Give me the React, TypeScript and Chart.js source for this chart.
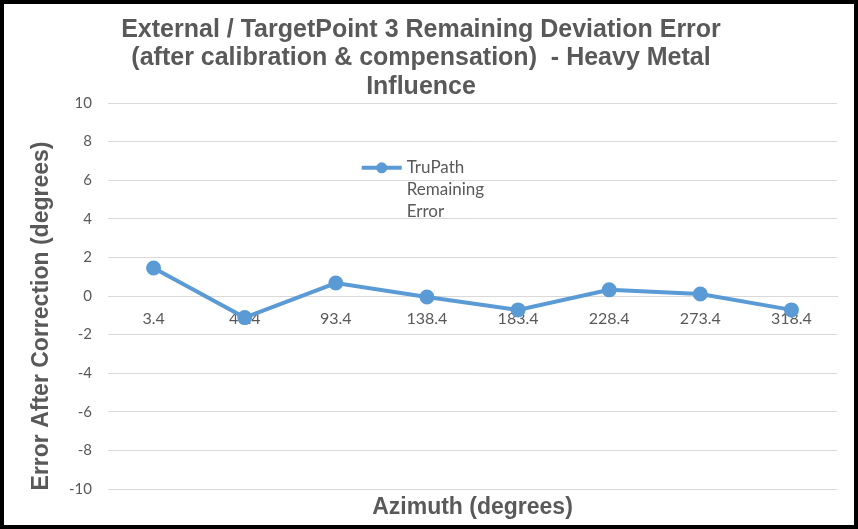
import { useEffect, useRef } from "react";
import { Chart, registerables } from "chart.js";

Chart.register(...registerables);

const categories = ["3.4", "48.4", "93.4", "138.4", "183.4", "228.4", "273.4", "318.4"];
const remainingError = [1.45, -1.12, 0.67, -0.05, -0.72, 0.32, 0.1, -0.72];
const seriesLabel = "TruPath Remaining Error";
const legendLines = ["TruPath", "Remaining", "Error"];
const titleLines = [
  "External / TargetPoint 3 Remaining Deviation Error",
  "(after calibration & compensation)  - Heavy Metal",
  "Influence",
];
const xAxisTitle = "Azimuth (degrees)";
const yAxisTitle = "Error After Correction (degrees)";
const yMin = -10;
const yMax = 10;
const yStep = 2;

const GRAY = "#595959";
const BLUE = "#5B9BD5";
const GRID = "#D9D9D9";
const TICK_FONT = "Lato, 'Open Sans', sans-serif";
const BOLD_FONT = "'Liberation Sans', Arial, sans-serif";

const extrasPlugin = {
  id: "extras",
  afterDraw(chart: any) {
    const { ctx, chartArea } = chart;
    const { left, right, top, bottom } = chartArea;
    ctx.save();
    ctx.fillStyle = GRAY;
    ctx.textAlign = "center";
    ctx.textBaseline = "middle";
    // chart title
    ctx.font = `bold 25px ${BOLD_FONT}`;
    titleLines.forEach((t, i) => ctx.fillText(t, 421, 30 + i * 28.5));
    // x axis title
    ctx.font = `bold 23px ${BOLD_FONT}`;
    ctx.fillText(xAxisTitle, (left + right) / 2, bottom + 19);
    // y axis title
    ctx.save();
    ctx.translate(42, (top + chart.height) / 2);
    ctx.rotate(-Math.PI / 2);
    ctx.font = `bold 23px ${BOLD_FONT}`;
    ctx.fillText(yAxisTitle, 0, 0);
    ctx.restore();
    // legend
    const lx = left + (right - left) * 0.348;
    const ly = top + (bottom - top) * 0.168;
    ctx.strokeStyle = BLUE;
    ctx.lineWidth = 4;
    ctx.beginPath();
    ctx.moveTo(lx, ly);
    ctx.lineTo(lx + 40, ly);
    ctx.stroke();
    ctx.fillStyle = BLUE;
    ctx.beginPath();
    ctx.arc(lx + 20, ly, 5.5, 0, Math.PI * 2);
    ctx.fill();
    ctx.fillStyle = GRAY;
    ctx.font = `17px ${TICK_FONT}`;
    ctx.textAlign = "left";
    legendLines.forEach((t, i) => ctx.fillText(t, lx + 45, ly + i * 22));
    ctx.restore();
  },
};

export default function App() {
  const ref = useRef<HTMLCanvasElement>(null);
  useEffect(() => {
    document.body.style.margin = "0";
    const chart = new Chart(ref.current!, {
      type: "line",
      data: {
        labels: categories,
        datasets: [
          {
            label: seriesLabel,
            data: remainingError,
            borderColor: BLUE,
            backgroundColor: BLUE,
            borderWidth: 4,
            pointRadius: 5.5,
            pointHoverRadius: 5.5,
            pointBackgroundColor: BLUE,
            pointBorderColor: BLUE,
            tension: 0,
          },
        ],
      },
      options: {
        animation: false,
        responsive: true,
        maintainAspectRatio: false,
        layout: { padding: { left: 68, right: 21, bottom: 40, top: 103 } },
        plugins: {
          legend: { display: false },
          tooltip: { enabled: false },
          title: { display: false },
        },
        scales: {
          x: {
            type: "category",
            position: { y: 0 },
            offset: true,
            grid: { display: false },
            border: { display: true, color: GRID, width: 1 },
            ticks: { color: GRAY, font: { family: TICK_FONT, size: 16 }, padding: 5, maxRotation: 0, autoSkip: false },
          },
          y: {
            min: yMin,
            max: yMax,
            ticks: { stepSize: yStep, color: GRAY, font: { family: TICK_FONT, size: 15 }, padding: 16 },
            grid: { color: GRID, drawTicks: false },
            border: { display: false },
            afterFit(scale: any) {
              scale.width = 40;
            },
          },
        },
      },
      plugins: [extrasPlugin],
    });
    return () => chart.destroy();
  }, []);
  return (
    <div style={{ position: "absolute", left: 0, top: 0, width: 858, height: 529 }}>
      <canvas ref={ref} />
      <div
        style={{
          position: "absolute",
          inset: 0,
          border: "4px solid #000",
          boxSizing: "border-box",
          pointerEvents: "none",
        }}
      />
    </div>
  );
}
